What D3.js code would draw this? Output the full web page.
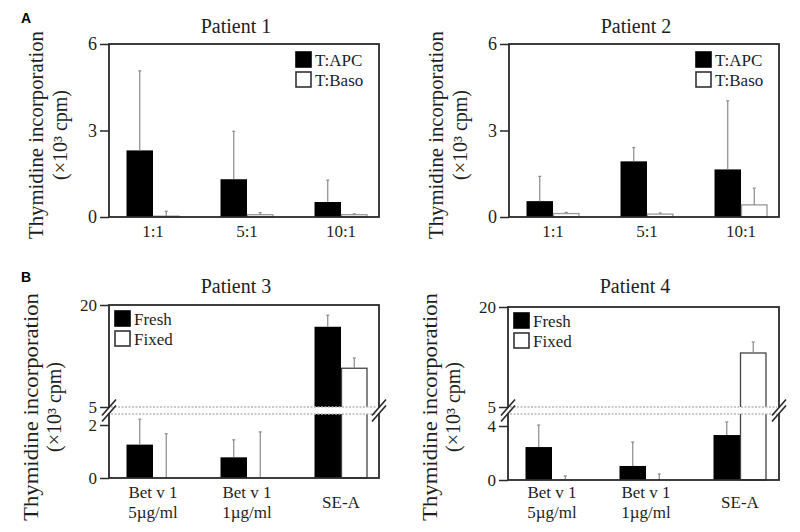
<!DOCTYPE html>
<html>
<head>
<meta charset="utf-8">
<script src="https://cdn.jsdelivr.net/npm/d3@7/dist/d3.min.js"></script>
<style>
  html, body { margin: 0; padding: 0; background: #fff; }
  svg { display: block; }
</style>
</head>
<body>
<div id="chart"></div>
<script>
// ---------------- DATA ----------------
const panelACategories = ["1:1", "5:1", "10:1"];
const panelASeries = ["T:APC", "T:Baso"];
const panelATicks = [0, 3, 6];

// Patient 1 (x10^3 cpm)
const p1APC = [2.31, 1.31, 0.52];
const p1APCErr = [2.76, 1.66, 0.76];
const p1Baso = [0.03, 0.08, 0.08];
const p1BasoErr = [0.17, 0.07, 0.03];

// Patient 2
const p2APC = [0.55, 1.93, 1.65];
const p2APCErr = [0.86, 0.48, 2.38];
const p2Baso = [0.12, 0.10, 0.42];
const p2BasoErr = [0.04, 0.04, 0.58];

const panelBCategories = [["Bet v 1", "5µg/ml"], ["Bet v 1", "1µg/ml"], ["SE-A"]];
const panelBSeries = ["Fresh", "Fixed"];
const p3Ticks = [0, 2, 5, 20];
const p4Ticks = [0, 4, 5, 20];

// Patient 3
const p3Fresh = [1.26, 0.78, 16.8];
const p3FreshErr = [0.96, 0.66, 1.7];
const p3Fixed = [0, 0, 10.7];
const p3FixedErr = [1.67, 1.74, 1.5];

// Patient 4
const p4Fresh = [2.44, 1.04, 3.33];
const p4FreshErr = [1.63, 1.77, 0.97];
const p4Fixed = [0, 0, 13.1];
const p4FixedErr = [0.3, 0.45, 1.65];

// ---------------- LAYOUT ----------------
const SERIF = "'Liberation Serif', 'Times New Roman', 'DejaVu Serif', serif";
const W = 800, H = 532;
const svg = d3.select("#chart").append("svg").attr("width", W).attr("height", H)
  .attr("font-family", SERIF).style("font-family", SERIF);
svg.append("rect").attr("width", W).attr("height", H).attr("fill", "#fff");

const barW = 26.5;
const inkErr = "#8a8a8a";

function txt(sel) {
  return sel.append("text").attr("font-family", SERIF).style("font-family", SERIF).attr("fill", "#1e1e1e");
}

function drawChart(cfg) {
  const g = svg.append("g");
  const x = d3.scalePoint().domain(d3.range(cfg.categories.length))
    .range([cfg.x0 + 44, cfg.x0 + 232]);

  let y, lowScale, highScale;
  if (cfg.broken) {
    lowScale = d3.scaleLinear().domain([0, cfg.lowTick]).range([cfg.bottom, cfg.yLowTick]);
    highScale = d3.scaleLinear().domain([cfg.breakVal, cfg.maxVal]).range([cfg.breakTop, cfg.top]);
    y = v => (v < cfg.breakVal ? lowScale(v) : highScale(v));
  } else {
    lowScale = d3.scaleLinear().domain([0, cfg.maxVal]).range([cfg.bottom, cfg.top]);
    y = lowScale;
  }

  // bars
  cfg.series.forEach((s, si) => {
    const vals = cfg.values[si], errs = cfg.errors[si];
    vals.forEach((v, i) => {
      const bx = x(i) - barW + si * barW;
      const yt = y(v);
      if (si === 0) {
        g.append("rect").attr("x", bx).attr("y", yt).attr("width", barW)
          .attr("height", Math.max(0, cfg.bottom - yt)).attr("fill", "#000");
      } else if (v > 0) {
        g.append("rect").attr("x", bx + 0.5).attr("y", yt).attr("width", barW - 1)
          .attr("height", Math.max(0, cfg.bottom - yt)).attr("fill", "#fff")
          .attr("stroke", cfg.whiteStroke).attr("stroke-width", 1.3);
      }
      const cx = bx + barW / 2;
      const ye = y(v + errs[i]);
      g.append("line").attr("x1", cx).attr("x2", cx).attr("y1", yt).attr("y2", ye)
        .attr("stroke", inkErr).attr("stroke-width", 1.2);
      g.append("line").attr("x1", cx - 1.5).attr("x2", cx + 1.5).attr("y1", ye).attr("y2", ye)
        .attr("stroke", inkErr).attr("stroke-width", 1.2);
    });
  });

  // break band
  if (cfg.broken) {
    g.append("rect").attr("x", cfg.x0 + 1).attr("y", cfg.breakTop)
      .attr("width", cfg.x1 - cfg.x0 - 2).attr("height", cfg.breakBottom - cfg.breakTop)
      .attr("fill", "#fff");
    [cfg.breakTop, cfg.breakBottom].forEach(yy => {
      g.append("line").attr("x1", cfg.x0 + 2).attr("x2", cfg.x1 - 2)
        .attr("y1", yy).attr("y2", yy).attr("stroke", "#b8b8b8")
        .attr("stroke-width", 1.4).attr("stroke-dasharray", "2,1.5");
    });
  }

  // frame
  g.append("rect").attr("x", cfg.x0).attr("y", cfg.top)
    .attr("width", cfg.x1 - cfg.x0).attr("height", cfg.bottom - cfg.top)
    .attr("fill", "none").attr("stroke", "#2a2a2a").attr("stroke-width", 1.8);

  function styleAxis(ax) {
    ax.attr("font-family", SERIF);
    ax.select(".domain").remove();
    ax.selectAll(".tick line").attr("stroke", "#2a2a2a").attr("stroke-width", 1.5);
    ax.selectAll(".tick text").attr("font-family", SERIF).style("font-family", SERIF)
      .attr("font-size", cfg.tickFont).style("font-size", cfg.tickFont + "px").attr("fill", "#1e1e1e");
  }
  const fmt = d3.format("d");
  if (cfg.broken) {
    const lowTicks = cfg.ticks.filter(t => t < cfg.breakVal);
    const highTicks = cfg.ticks.filter(t => t >= cfg.breakVal);
    const a1 = g.append("g").attr("transform", `translate(${cfg.x0},0)`)
      .call(d3.axisLeft(lowScale).tickValues(lowTicks).tickSize(9).tickPadding(3).tickFormat(fmt));
    styleAxis(a1);
    const a2 = g.append("g").attr("transform", `translate(${cfg.x0},0)`)
      .call(d3.axisLeft(highScale).tickValues(highTicks).tickSize(9).tickPadding(3).tickFormat(fmt));
    styleAxis(a2);
    const ym = (cfg.breakTop + cfg.breakBottom) / 2;
    [cfg.x0, cfg.x1].forEach(xx => {
      g.append("rect").attr("x", xx - 2).attr("y", cfg.breakTop + 1).attr("width", 4)
        .attr("height", cfg.breakBottom - cfg.breakTop - 2).attr("fill", "#fff");
      [-3, 3].forEach(off => {
        g.append("line").attr("x1", xx - 7).attr("y1", ym + off + 8)
          .attr("x2", xx + 7).attr("y2", ym + off - 8)
          .attr("stroke", "#2a2a2a").attr("stroke-width", 1.6);
      });
    });
  } else {
    const a = g.append("g").attr("transform", `translate(${cfg.x0},0)`)
      .call(d3.axisLeft(lowScale).tickValues(cfg.ticks).tickSize(9).tickPadding(3).tickFormat(fmt));
    styleAxis(a);
  }

  // x labels
  cfg.categories.forEach((c, i) => {
    const lines = Array.isArray(c) ? c : [c];
    const t = txt(g).attr("text-anchor", "middle").attr("font-size", cfg.xFont);
    if (lines.length === 1) {
      const yy = cfg.xLabelY2 ? (cfg.xLabelY1 + cfg.xLabelY2) / 2 : cfg.xLabelY1;
      t.attr("x", x(i)).attr("y", yy).text(lines[0]);
    } else {
      lines.forEach((l, li) => {
        t.append("tspan").attr("x", x(i))
          .attr("y", li === 0 ? cfg.xLabelY1 : cfg.xLabelY2).text(l);
      });
    }
  });

  // title
  txt(g).attr("x", cfg.x0 + 127).attr("y", cfg.titleY)
    .attr("text-anchor", "middle").attr("font-size", 20).text(cfg.title);

  // y label
  txt(g).attr("text-anchor", "middle").attr("font-size", 20)
    .attr("transform", `translate(${cfg.x0 - cfg.ylOff1},${cfg.ylMid}) rotate(-90)`)
    .attr("textLength", cfg.ylLen).attr("lengthAdjust", "spacingAndGlyphs")
    .text("Thymidine incorporation");
  txt(g).attr("text-anchor", "middle").attr("font-size", 20)
    .attr("transform", `translate(${cfg.x0 - cfg.ylOff2},${cfg.ylMid}) rotate(-90)`)
    .text("(×10³ cpm)");

  // legend
  cfg.series.forEach((s, si) => {
    const ly = cfg.legendY + si * 20;
    g.append("rect").attr("x", cfg.legendX).attr("y", ly).attr("width", 15).attr("height", 15)
      .attr("fill", si === 0 ? "#000" : "#fff")
      .attr("stroke", si === 0 ? "#000" : "#333").attr("stroke-width", 1.6);
    txt(g).attr("x", cfg.legendX + 19).attr("y", ly + 14)
      .attr("font-size", 17).text(s);
  });
}

// Panel letters
svg.append("text").attr("x", 21).attr("y", 23).attr("font-size", 14).attr("font-weight", "bold")
  .attr("font-family", "'Liberation Sans', Arial, sans-serif").style("font-family", "'Liberation Sans', Arial, sans-serif").text("A");
svg.append("text").attr("x", 21).attr("y", 282).attr("font-size", 14).attr("font-weight", "bold")
  .attr("font-family", "'Liberation Sans', Arial, sans-serif").style("font-family", "'Liberation Sans', Arial, sans-serif").text("B");

const commonA = {
  categories: panelACategories, series: panelASeries, ticks: panelATicks,
  top: 44, bottom: 217, maxVal: 6, broken: false, whiteStroke: "#9a9a9a",
  xFont: 17, tickFont: 18, xLabelY1: 237, titleY: 33, ylOff1: 66, ylOff2: 42, ylMid: 135, ylLen: 208,
  legendY: 52
};
drawChart(Object.assign({}, commonA, {
  x0: 109, x1: 379, title: "Patient 1",
  values: [p1APC, p1Baso], errors: [p1APCErr, p1BasoErr], legendX: 296
}));
drawChart(Object.assign({}, commonA, {
  x0: 509, x1: 779, title: "Patient 2",
  values: [p2APC, p2Baso], errors: [p2APCErr, p2BasoErr], legendX: 696
}));

const commonB = {
  categories: panelBCategories, series: panelBSeries,
  maxVal: 20, broken: true, breakVal: 5, whiteStroke: "#444",
  xFont: 17, tickFont: 17, xLabelY1: 498, xLabelY2: 518, titleY: 293, ylOff1: 71, ylOff2: 48, ylMid: 407, ylLen: 228
};
drawChart(Object.assign({}, commonB, {
  x0: 109, x1: 379, top: 305, bottom: 478, lowTick: 2, yLowTick: 425,
  breakTop: 407, breakBottom: 414, ticks: p3Ticks, title: "Patient 3",
  values: [p3Fresh, p3Fixed], errors: [p3FreshErr, p3FixedErr], legendX: 115, legendY: 311
}));
drawChart(Object.assign({}, commonB, {
  x0: 508, x1: 779, top: 307, bottom: 480, lowTick: 4, yLowTick: 426,
  breakTop: 407, breakBottom: 414, ticks: p4Ticks, title: "Patient 4",
  values: [p4Fresh, p4Fixed], errors: [p4FreshErr, p4FixedErr], legendX: 514, legendY: 313
}));
</script>
</body>
</html>
